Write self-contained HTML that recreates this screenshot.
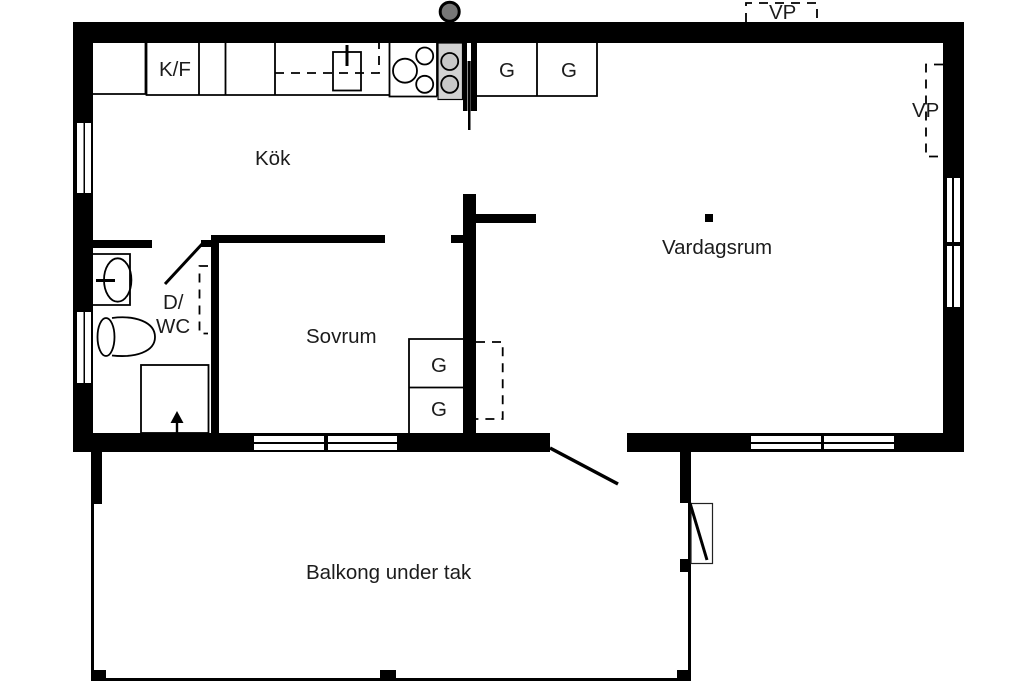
<!DOCTYPE html>
<html>
<head>
<meta charset="utf-8">
<style>
html,body{margin:0;padding:0;background:#fff;}
svg{display:block;}
text{font-family:"Liberation Sans",sans-serif;font-size:20.5px;fill:#1c1c1c;}
</style>
</head>
<body>
<svg width="1024" height="688" viewBox="0 0 1024 688" xmlns="http://www.w3.org/2000/svg">
<rect width="1024" height="688" fill="#fff"/>

<!-- VP top dashed -->
<path d="M746 22V3H817V22" fill="none" stroke="#000" stroke-width="1.800" stroke-dasharray="9 7"/>

<!-- outer walls -->
<g fill="#000">
<rect x="73" y="22" width="891" height="21"/>
<rect x="73" y="22" width="20" height="430"/>
<rect x="943" y="22" width="21" height="430"/>
<rect x="73" y="433" width="477" height="19"/>
<rect x="627" y="433" width="337" height="19"/>
<!-- inner walls -->
<rect x="93" y="240" width="59" height="8"/>
<rect x="201" y="240" width="11" height="7"/>
<rect x="211" y="235" width="174" height="8"/>
<rect x="211" y="235" width="8" height="198"/>
<rect x="463" y="194" width="13" height="239"/>
<rect x="476" y="214" width="60" height="9"/>
<rect x="451" y="235" width="12" height="8"/>
<rect x="705" y="214" width="8" height="8"/>
<!-- balcony -->
<rect x="91" y="452" width="11" height="52"/>
<rect x="91" y="452" width="3" height="229"/>
<rect x="91" y="678" width="600" height="3"/>
<rect x="91" y="670" width="15" height="11"/>
<rect x="380" y="670" width="16" height="11"/>
<rect x="677" y="670" width="14" height="11"/>
<rect x="680" y="452" width="11" height="51"/>
<rect x="688" y="452" width="3" height="229"/>
<rect x="680" y="559" width="9" height="13"/>
</g>

<!-- windows -->
<g fill="#fff">
<rect x="77" y="123" width="6.500" height="70"/>
<rect x="85" y="123" width="6" height="70"/>
<rect x="77" y="312" width="6.500" height="71"/>
<rect x="85" y="312" width="6" height="71"/>
<rect x="947" y="178" width="5" height="64"/>
<rect x="954" y="178" width="6" height="64"/>
<rect x="947" y="246" width="5" height="61"/>
<rect x="954" y="246" width="6" height="61"/>
<rect x="254" y="436" width="70" height="6"/>
<rect x="254" y="444" width="70" height="6"/>
<rect x="328" y="436" width="69" height="6"/>
<rect x="328" y="444" width="69" height="6"/>
<rect x="751" y="436" width="70" height="6"/>
<rect x="751" y="444" width="70" height="5"/>
<rect x="824" y="436" width="70" height="6"/>
<rect x="824" y="444" width="70" height="5"/>
</g>

<!-- kitchen cabinets -->
<g fill="none" stroke="#000" stroke-width="1.800">
<path d="M93 94H145.500V43"/>
<path d="M146.500 43V95H389.500"/>
<path d="M199 43V95M225.500 43V95M275 43V95"/>
<rect x="333" y="52" width="28" height="38.500"/>
<path d="M389.500 43V96.500H437"/>
<path d="M437 43V96.500"/>
<circle cx="405" cy="70.700" r="12"/>
<circle cx="424.700" cy="56" r="8.500"/>
<circle cx="424.700" cy="84.300" r="8.500"/>
<path d="M477 96H597V43M537 43V96"/>
</g>
<path d="M275 73H379V43" fill="none" stroke="#000" stroke-width="1.800" stroke-dasharray="9 7"/>
<rect x="345.500" y="45" width="3" height="21" fill="#000"/>

<!-- stove gray -->
<rect x="438" y="43" width="24.500" height="56.500" fill="#d2d2d2" stroke="#000" stroke-width="1.200"/>
<circle cx="449.700" cy="61.500" r="8.500" fill="#c8c8c8" stroke="#000" stroke-width="1.800"/>
<circle cx="449.700" cy="84.300" r="8.500" fill="#c8c8c8" stroke="#000" stroke-width="1.800"/>
<rect x="463" y="43" width="14" height="68" fill="#000"/>
<rect x="467" y="43" width="4" height="18" fill="#fff"/>
<rect x="467" y="61" width="4" height="50" fill="#8a8a8a"/>
<rect x="468" y="61" width="2.500" height="69" fill="#000"/>

<!-- chimney -->
<circle cx="449.700" cy="11.700" r="9.500" fill="#777" stroke="#000" stroke-width="3"/>

<!-- VP right dashed -->
<path d="M943 64.500H926V156.500H943" fill="none" stroke="#000" stroke-width="1.800" stroke-dasharray="9 7"/>

<!-- bathroom -->
<g fill="none" stroke="#000" stroke-width="1.800">
<path d="M93 254H130V305H93"/>
<ellipse cx="117.700" cy="280" rx="13.700" ry="21.700"/>
<path d="M112 318C135 315 155 322 155 337C155 352 135 358 112 355.500"/>
<ellipse cx="106" cy="337" rx="8.500" ry="19"/>
<rect x="141" y="365" width="67.500" height="68"/>
</g>
<rect x="96" y="279" width="19" height="3" fill="#000"/>
<path d="M165 284L203 243" stroke="#000" stroke-width="3" fill="none"/>
<path d="M208 266H199.500V333.500H208" fill="none" stroke="#000" stroke-width="1.800" stroke-dasharray="9 7"/>
<path d="M177 411L183.500 423H170.500Z" fill="#000"/>
<rect x="175.800" y="422" width="2.400" height="11" fill="#000"/>

<!-- bedroom closets -->
<g fill="none" stroke="#000" stroke-width="1.800">
<path d="M463 339H409V433M409 387.500H463"/>
</g>
<path d="M476 342H502.700V419H476" fill="none" stroke="#000" stroke-width="1.800" stroke-dasharray="9 7"/>

<!-- doors -->
<path d="M550 448L618 484" stroke="#000" stroke-width="3.500" fill="none"/>
<rect x="691" y="503.500" width="21.500" height="60" fill="none" stroke="#222" stroke-width="1.200"/>
<path d="M690 503L707 560" stroke="#000" stroke-width="3" fill="none"/>

<!-- labels -->
<text x="159" y="76">K/F</text>
<text x="255" y="165">Kök</text>
<text x="499" y="77">G</text>
<text x="561" y="77">G</text>
<text x="769" y="19">VP</text>
<text x="912" y="117">VP</text>
<text x="662" y="254">Vardagsrum</text>
<text x="306" y="343">Sovrum</text>
<text x="431" y="372">G</text>
<text x="431" y="416">G</text>
<text x="163" y="309">D/</text>
<text x="156" y="333">WC</text>
<text x="306" y="579">Balkong under tak</text>
</svg>
</body>
</html>
